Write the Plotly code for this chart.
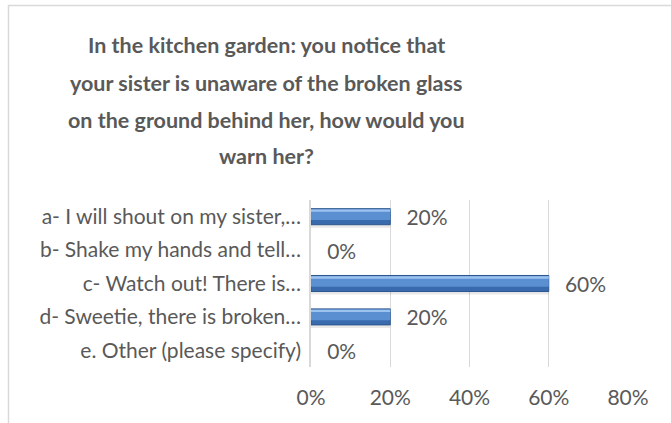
import plotly.graph_objects as go

categories = [
    "a- I will shout on my sister,…",
    "b- Shake my hands and tell…",
    "c- Watch out! There is…",
    "d- Sweetie, there is broken…",
    "e. Other (please specify)",
]
values = [0.20, 0.0, 0.60, 0.20, 0.0]
tick_vals = [0, 0.2, 0.4, 0.6, 0.8]
tick_text = ["0%", "20%", "40%", "60%", "80%"]
title_lines = [
    "In the kitchen garden: you notice that",
    "your sister is unaware of the broken glass",
    "on the ground behind her, how would you",
    "warn her?",
]

FONT = "Lato"
GREY = "#595959"

W, H = 671, 423
L, R, T, B = 311, 43, 200, 56
pw, ph = W - L - R, H - T - B

def px_x(x):
    return (x - L) / pw

def px_y(y):
    return (H - B - y) / ph

line_w = [1 if v > 0 else 0 for v in values]

fig = go.Figure()

# shadow
fig.add_trace(go.Bar(
    y=categories, x=values, orientation="h",
    width=0.50, offset=-0.17,
    marker=dict(color="rgba(0,0,0,0.09)", line=dict(width=0)),
    hoverinfo="skip", showlegend=False,
))
# main bar
fig.add_trace(go.Bar(
    y=categories, x=values, orientation="h",
    width=0.48, offset=-0.24,
    marker=dict(color="#3A6AAE", line=dict(color="#2D568F", width=line_w)),
    text=values, texttemplate="\u2002\u2009%{x:.0%}", textposition="outside",
    constraintext="none",
    textfont=dict(family=FONT, size=21, color=GREY),
    cliponaxis=False, showlegend=False,
))
# mid band
fig.add_trace(go.Bar(
    y=categories, x=values, orientation="h",
    width=0.32, offset=-0.22,
    marker=dict(color="#5A8FD2", line=dict(width=0)),
    hoverinfo="skip", showlegend=False,
))
# highlight
fig.add_trace(go.Bar(
    y=categories, x=values, orientation="h",
    width=0.07, offset=-0.215,
    marker=dict(color="#9CC2EE", line=dict(width=0)),
    hoverinfo="skip", showlegend=False,
))

annotations = []
ys = [45, 83, 120, 156]
for line, yc in zip(title_lines, ys):
    annotations.append(dict(
        text=f"<b>{line}</b>", x=px_x(266), y=px_y(yc), xref="paper", yref="paper",
        xanchor="center", yanchor="middle", showarrow=False,
        font=dict(family=FONT, size=21.5, color=GREY),
    ))

fig.update_layout(
    width=W, height=H,
    margin=dict(l=L, r=R, t=T, b=B),
    paper_bgcolor="white", plot_bgcolor="white",
    barmode="overlay",
    annotations=annotations,
    shapes=[dict(type="rect", xref="paper", yref="paper",
                 x0=px_x(8.5), x1=px_x(720), y0=px_y(480), y1=px_y(5.5),
                 line=dict(color="#D9D9D9", width=1.5), fillcolor="rgba(0,0,0,0)", layer="below")],
    xaxis=dict(range=[0, 0.8], tickvals=tick_vals, ticktext=tick_text,
               showgrid=True, gridcolor="#D9D9D9", gridwidth=1,
               zeroline=False, showline=False, ticks="",
               ticklabelstandoff=16,
               tickfont=dict(family=FONT, size=21, color=GREY)),
    yaxis=dict(categoryorder="array", categoryarray=categories, autorange="reversed",
               showline=True, linecolor="#D9D9D9", linewidth=1.5, ticks="",
               ticklabelstandoff=4,
               tickfont=dict(family=FONT, size=21, color=GREY)),
    font=dict(family=FONT, color=GREY),
)

fig.write_html("out.html", config={"displayModeBar": False},
               post_script="document.body.style.margin='0';document.body.style.overflow='hidden';")
